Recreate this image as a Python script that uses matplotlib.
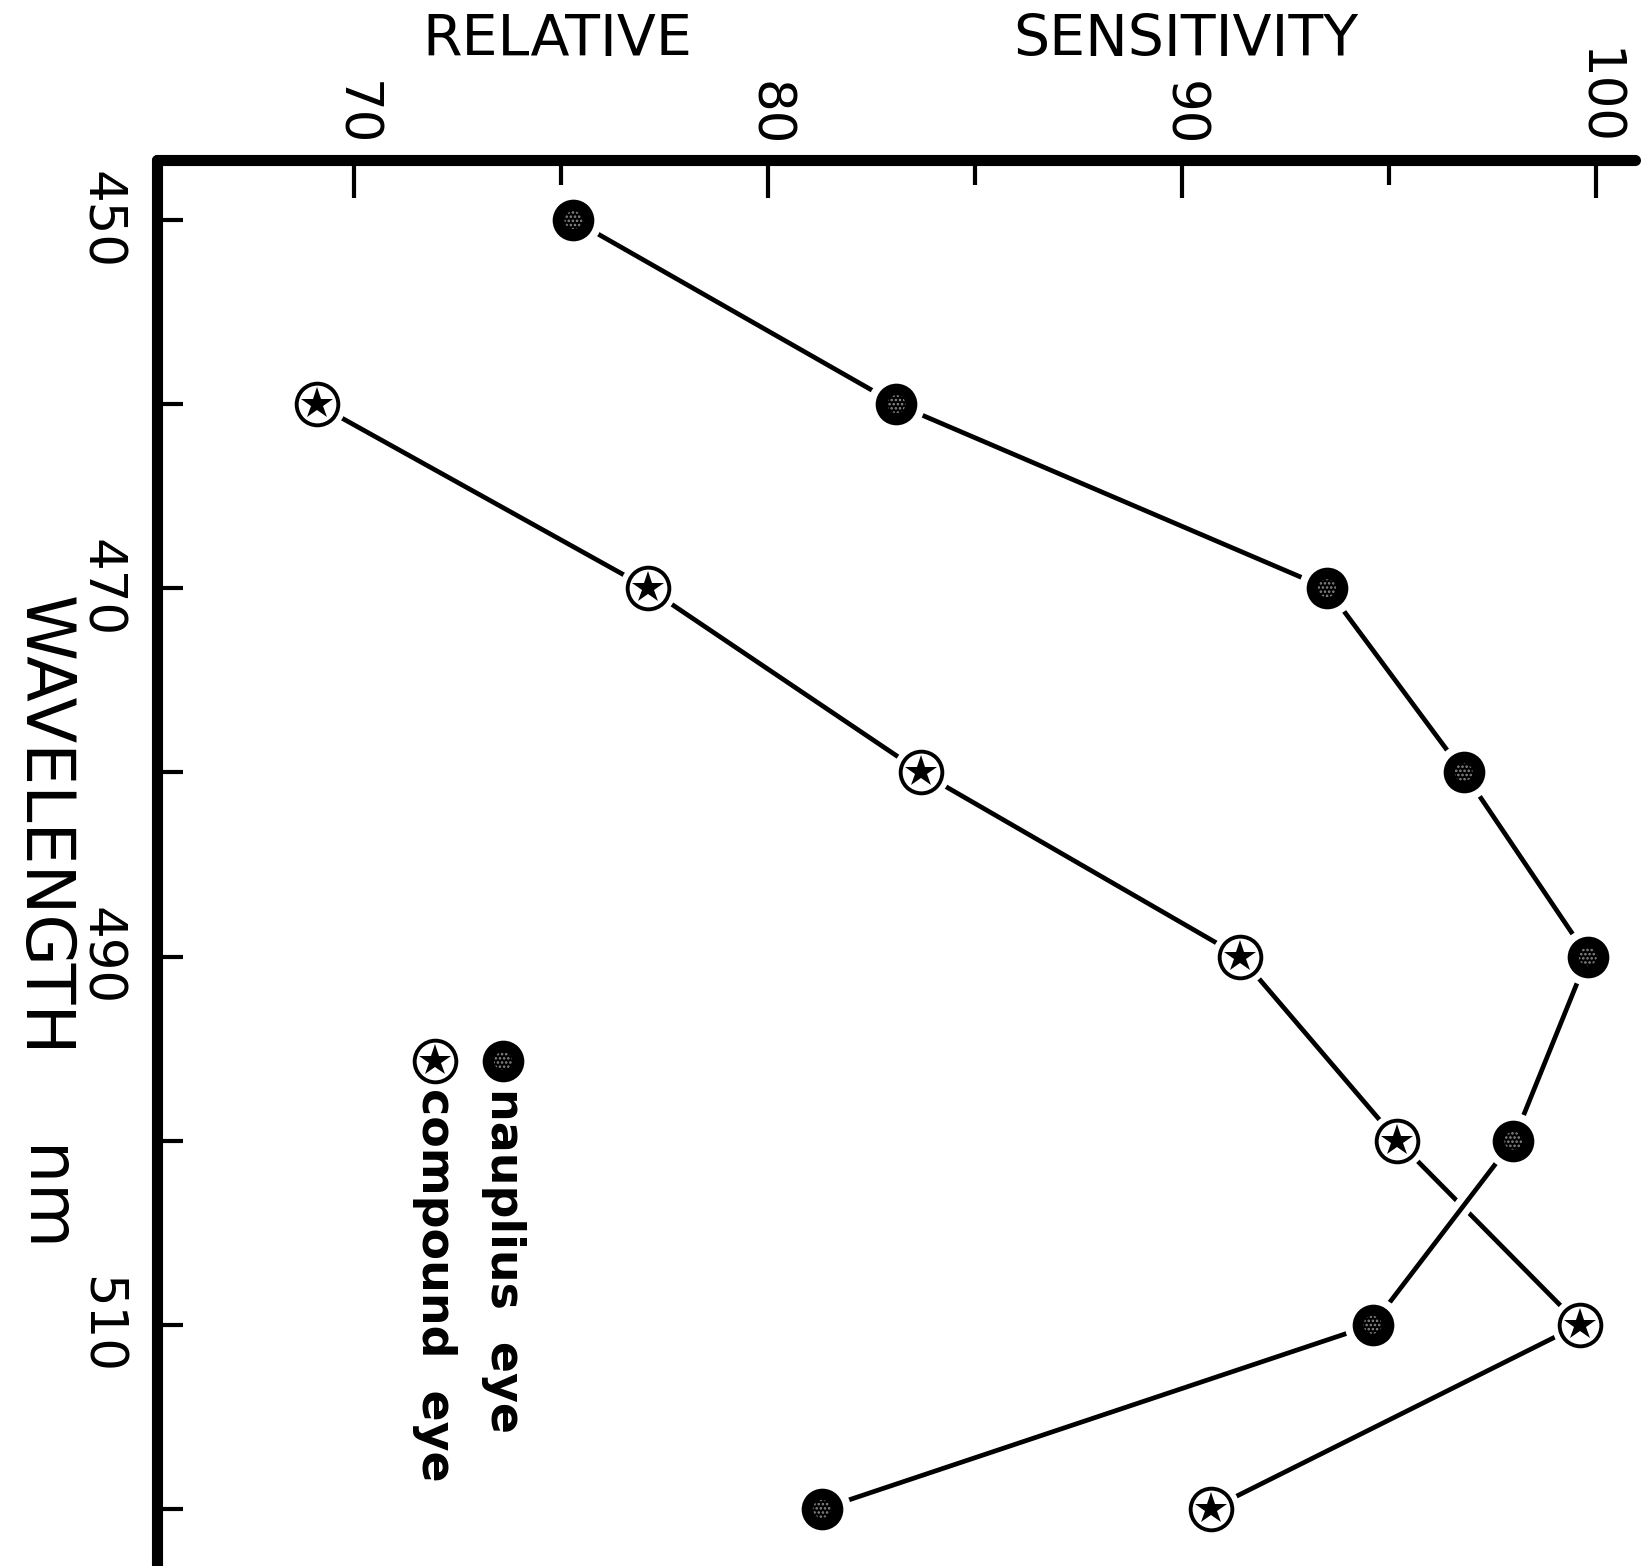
import matplotlib
matplotlib.use("Agg")
import matplotlib.pyplot as plt
import matplotlib.patheffects as pe

# Relative spectral sensitivity of the two eyes
wavelength = [450, 460, 470, 480, 490, 500, 510, 520]
nauplius = [75.3, 83.1, 93.5, 96.8, 99.8, 98.0, 94.6, 81.3]
compound_wavelength = [460, 470, 480, 490, 500, 510, 520]
compound = [69.1, 77.1, 83.7, 91.4, 95.2, 99.6, 90.7]

sens_ticks = [70, 80, 90, 100]
sens_labels = ["70", "80", "90", "100"]
sens_minor = [75, 85, 95]
wl_ticks = [450, 460, 470, 480, 490, 500, 510, 520]
wl_labels = ["450", "", "470", "", "490", "", "510", ""]

plt.rcParams['font.family'] = 'DejaVu Sans'
plt.rcParams['hatch.linewidth'] = 1.2

W, H = 1643, 1566
fig = plt.figure(figsize=(W / 100, H / 100), dpi=100)
ax = fig.add_axes([157 / W, 0.0, (1635 - 157) / W, 1 - 160 / H])
ax.set_xlim(65.24, 100.94)
ax.set_ylim(523.1, 446.74)

# axes frame: only top and left, drawn heavy
for side in ("right", "bottom"):
    ax.spines[side].set_visible(False)
for side in ("top", "left"):
    ax.spines[side].set_linewidth(8)
    ax.spines[side].set_capstyle("round")

ax.xaxis.tick_top()
ax.set_xticks(sens_ticks)
ax.set_xticklabels(sens_labels, rotation=-90, fontsize=37)
ax.set_xticks(sens_minor, minor=True)
ax.tick_params(axis="x", which="major", direction="in", length=27, width=3, pad=10)
ax.tick_params(axis="x", which="minor", direction="in", length=18, width=3)

ax.set_yticks(wl_ticks)
ax.set_yticklabels(wl_labels, rotation=-90, fontsize=37, va="center")
ax.tick_params(axis="y", which="major", direction="in", length=19, width=3, pad=23)

# curves
ax.plot(compound, compound_wavelength, color="black", lw=3.4, zorder=2)
ax.plot(nauplius, wavelength, color="black", lw=3.4, zorder=2.5,
        path_effects=[pe.Stroke(linewidth=13, foreground="white"), pe.Normal()])

# white rings so the lines stop short of the symbols
ax.plot(nauplius, wavelength, "o", ms=41, color="white", mew=0, zorder=3)
ax.plot(compound, compound_wavelength, "o", ms=41, color="white", mew=0, zorder=3)

# nauplius eye: solid dot with a grainy centre
ax.plot(nauplius, wavelength, "o", ms=30, color="black", mew=0, zorder=4)
ax.scatter(nauplius, wavelength, s=13 ** 2, marker="o", facecolor="black",
           edgecolor="#8c8c8c", hatch="....", linewidth=0, zorder=5)

# compound eye: open circle with a star
ax.plot(compound, compound_wavelength, "o", ms=30, mfc="white", mec="black",
        mew=2.8, zorder=4)
ax.plot(compound, compound_wavelength, "*", ms=24, color="black", mew=0, zorder=5)

# legend
fig_tr = fig.transFigure
lx_n, lx_c, ly = 503 / W, 435 / W, 1 - 1061 / H
ax.plot([lx_n], [ly], "o", ms=30, color="black", mew=0, transform=fig_tr, clip_on=False)
ax.scatter([lx_n], [ly], s=13 ** 2, marker="o", facecolor="black", edgecolor="#8c8c8c",
           hatch="....", linewidth=0, transform=fig_tr, clip_on=False, zorder=5)
ax.plot([lx_c], [ly], "o", ms=30, mfc="white", mec="black", mew=2.8,
        transform=fig_tr, clip_on=False)
ax.plot([lx_c], [ly], "*", ms=24, color="black", mew=0, transform=fig_tr, clip_on=False)
fig.text(lx_n, 1 - 1088 / H, "nauplius  eye", rotation=-90, fontsize=33,
         fontweight="bold", ha="center", va="top")
fig.text(lx_c, 1 - 1088 / H, "compound  eye", rotation=-90, fontsize=33,
         fontweight="bold", ha="center", va="top")

# axis titles
fig.text(557 / W, 1 - 40 / H, "RELATIVE", fontsize=41, ha="center", va="center")
fig.text(1186 / W, 1 - 40 / H, "SENSITIVITY", fontsize=41, ha="center", va="center")
fig.text(43 / W, 1 - 826 / H, "WAVELENGTH", fontsize=48, rotation=-90,
         ha="center", va="center")
fig.text(43 / W, 1 - 1200 / H, "nm", fontsize=48, rotation=-90,
         ha="center", va="center")

fig.savefig("out.png", dpi=100, facecolor="white")
